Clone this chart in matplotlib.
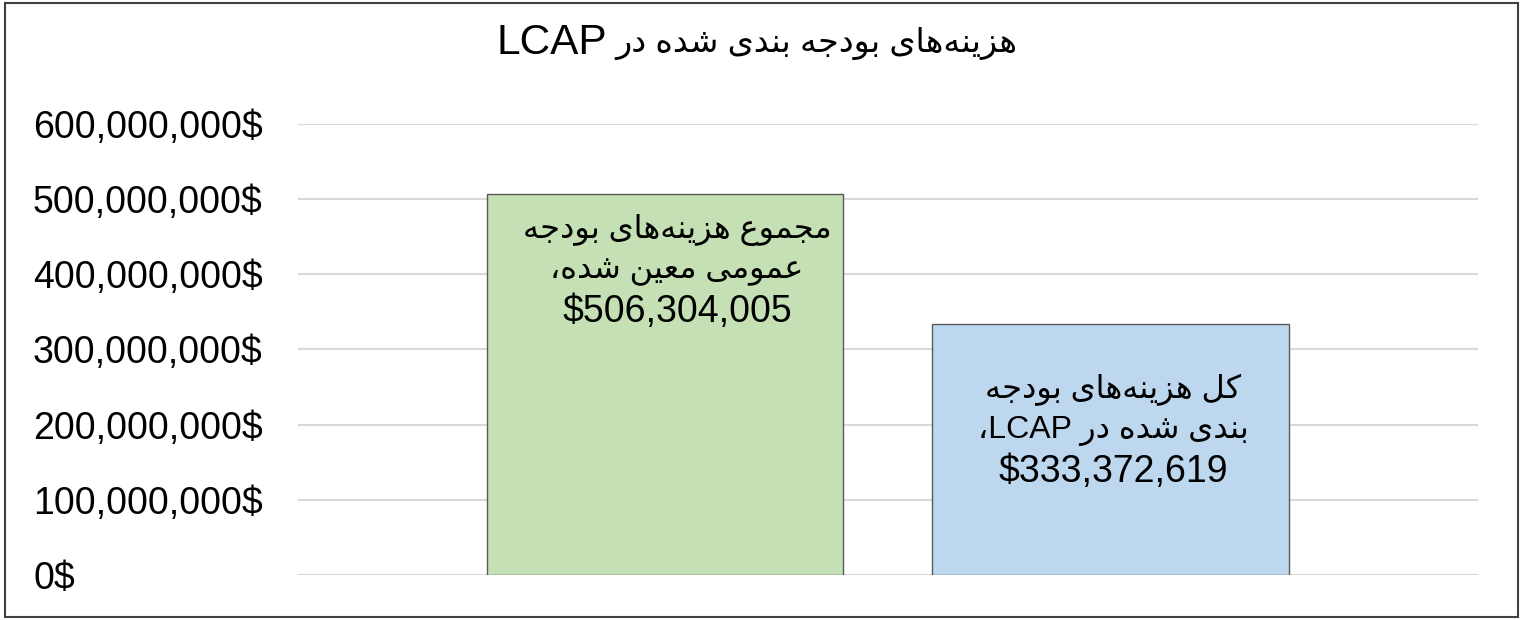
import matplotlib
matplotlib.use('Agg')
import matplotlib.pyplot as plt
from matplotlib.patches import Rectangle
from matplotlib.ticker import FuncFormatter

# chart data
title = 'هزینه‌های بودجه بندی شده در LCAP'
categories = ['مجموع هزینه‌های بودجه عمومی معین شده', 'کل هزینه‌های بودجه بندی شده در LCAP']
values = [506304005, 333372619]
label_lines = [
    ['مجموع هزینه‌های بودجه', 'عمومی معین شده،'],
    ['کل هزینه‌های بودجه', 'بندی شده در LCAP،'],
]
y_ticks = [0, 100000000, 200000000, 300000000, 400000000, 500000000, 600000000]
bar_colors = ['#C5E0B4', '#BDD7EE']

plt.rcParams['font.family'] = ['Liberation Sans', 'DejaVu Sans']

# matplotlib has no arabic shaping, so map letters to presentation forms
# (isolated, final, initial, medial)
FORMS = {
    'ا': ('\uFE8D', '\uFE8E', None, None),
    'ب': ('\uFE8F', '\uFE90', '\uFE91', '\uFE92'),
    'ج': ('\uFE9D', '\uFE9E', '\uFE9F', '\uFEA0'),
    'د': ('\uFEA9', '\uFEAA', None, None),
    'ر': ('\uFEAD', '\uFEAE', None, None),
    'ز': ('\uFEAF', '\uFEB0', None, None),
    'ش': ('\uFEB5', '\uFEB6', '\uFEB7', '\uFEB8'),
    'ع': ('\uFEC9', '\uFECA', '\uFECB', '\uFECC'),
    'ل': ('\uFEDD', '\uFEDE', '\uFEDF', '\uFEE0'),
    'م': ('\uFEE1', '\uFEE2', '\uFEE3', '\uFEE4'),
    'ن': ('\uFEE5', '\uFEE6', '\uFEE7', '\uFEE8'),
    'و': ('\uFEED', '\uFEEE', None, None),
    'ه': ('\uFEE9', '\uFEEA', '\uFEEB', '\uFEEC'),
    'ی': ('\uFBFC', '\uFBFD', '\uFBFE', '\uFBFF'),
    'ک': ('\uFB8E', '\uFB8F', '\uFB90', '\uFB91'),
}


def shape(text):
    out = []
    for i, ch in enumerate(text):
        if ch not in FORMS:
            out.append(ch)
            continue
        prev = text[i - 1] if i > 0 else ''
        nxt = text[i + 1] if i + 1 < len(text) else ''
        join_prev = prev in FORMS and FORMS[prev][2] is not None
        join_next = FORMS[ch][2] is not None and nxt in FORMS
        iso, fin, ini, med = FORMS[ch]
        if join_prev and join_next:
            out.append(med)
        elif join_prev:
            out.append(fin)
        elif join_next:
            out.append(ini)
        else:
            out.append(iso)
    return ''.join(out).replace('\u200c', '')


def is_rtl(ch):
    return '\u0600' <= ch <= '\u06FF' or '\uFB50' <= ch <= '\uFEFF'


def is_ltr(ch):
    return ch.isascii() and ch.isalnum()


def rtl(text):
    # simple bidi for a right-to-left paragraph
    if not any(is_rtl(c) for c in text):
        return text
    text = shape(text)
    kinds = []
    for c in text:
        kinds.append('R' if is_rtl(c) else 'L' if is_ltr(c) else 'N')
    levels = []
    for i, k in enumerate(kinds):
        if k != 'N':
            levels.append(k)
            continue
        before = next((kinds[j] for j in range(i - 1, -1, -1) if kinds[j] != 'N'), 'R')
        after = next((kinds[j] for j in range(i + 1, len(kinds)) if kinds[j] != 'N'), 'R')
        levels.append('L' if before == 'L' and after == 'L' else 'R')
    runs = []
    for c, lv in zip(text, levels):
        if runs and runs[-1][0] == lv:
            runs[-1][1].append(c)
        else:
            runs.append([lv, [c]])
    parts = []
    for lv, chars in reversed(runs):
        parts.append(''.join(reversed(chars)) if lv == 'R' else ''.join(chars))
    return ''.join(parts)


fig = plt.figure(figsize=(15.26, 6.2), dpi=100)
ax = fig.add_axes([0.1953, 0.0718, 0.7732, 0.729])

x = list(range(len(categories)))
ax.bar(x, values, width=0.8, color=bar_colors, edgecolor='#595959', linewidth=1.0, zorder=2)

ax.set_xlim(-0.824, 1.825)
ax.set_ylim(0, 600000000)
ax.set_yticks(y_ticks)
ax.yaxis.set_major_formatter(FuncFormatter(lambda v, _: f'{v:,.0f}$'))
ax.set_xticks([])
ax.tick_params(axis='y', length=0, pad=190.8, labelsize=27)
for lab in ax.get_yticklabels():
    lab.set_ha('left')
ax.yaxis.grid(True, color='#D9D9D9', linewidth=1.5)
ax.set_axisbelow(True)
for s in ax.spines.values():
    s.set_visible(False)

# data labels inside the bars, one text per line
label_dx = [8.6, 2.2]
label_dy = [-25.5, -47]
line_step = 29.8
for i, (v, lines) in enumerate(zip(values, label_lines)):
    texts = [(rtl(l), 23) for l in lines] + [(f'${v:,}', 27)]
    for k, (t, size) in enumerate(texts):
        ax.annotate(t, xy=(i, v), xytext=(label_dx[i], label_dy[i] - k * line_step),
                    textcoords='offset points', ha='center', va='center',
                    fontsize=size, zorder=3)

# title: persian part and latin part side by side
title_fa, title_en = title.rsplit(' ', 1)
fig.text(1017 / 1526, 1 - 43 / 620, rtl(title_fa), ha='right', va='center', fontsize=24)
fig.text(497 / 1526, 1 - 43 / 620, title_en, ha='left', va='center', fontsize=30.5)

fig.patches.append(Rectangle((5 / 1526, 3 / 620), 1513 / 1526, 614 / 620, transform=fig.transFigure,
                             fill=False, edgecolor='#404040', linewidth=1.5))

fig.savefig('out.png', dpi=100)
